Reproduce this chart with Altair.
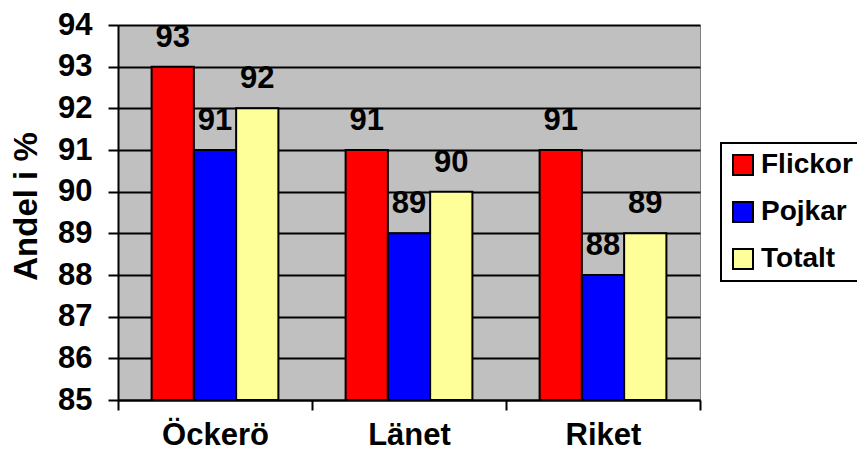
import altair as alt
import pandas as pd

categories = ["Öckerö", "Länet", "Riket"]
series = ["Flickor", "Pojkar", "Totalt"]
flickor = [93, 91, 91]
pojkar = [91, 89, 88]
totalt = [92, 90, 89]
colors = ["#FF0000", "#0000FF", "#FFFF99"]
y_ticks = [85, 86, 87, 88, 89, 90, 91, 92, 93, 94]

rows = []
for s, vals in zip(series, [flickor, pojkar, totalt]):
    for c, v in zip(categories, vals):
        rows.append({"Område": c, "Grupp": s, "Andel": v})
df = pd.DataFrame(rows)

FONT = "Liberation Sans"
FS = 31

x = alt.X(
    "Område:N",
    sort=categories,
    scale=alt.Scale(paddingInner=0, paddingOuter=0),
    axis=alt.Axis(
        title=None,
        labelAngle=0,
        tickBand="extent",
        tickSize=10,
        tickWidth=2,
        tickColor="black",
        domainColor="black",
        domainWidth=2,
        labelPadding=10,
        labelFontSize=FS,
    ),
)
xo = alt.XOffset("Grupp:N", sort=series, scale=alt.Scale(paddingOuter=0.795, paddingInner=0))
y = alt.Y(
    "Andel:Q",
    scale=alt.Scale(domain=[85, 94], zero=False, nice=False),
    axis=alt.Axis(
        title="Andel i %",
        values=y_ticks,
        grid=True,
        gridColor="black",
        gridWidth=2,
        tickSize=10,
        tickWidth=2,
        tickColor="black",
        domainColor="black",
        domainWidth=2,
        labelPadding=16,
        labelFontSize=FS,
        titleFontSize=33,
        titleAngle=-90,
        titleX=-82,
        titleY=181,
        titleAlign="center",
        titleBaseline="alphabetic",
    ),
)

bars = alt.Chart(df).mark_bar(stroke="black", strokeWidth=2).encode(
    x=x,
    xOffset=xo,
    y=y,
    y2=alt.datum(85),
    color=alt.Color(
        "Grupp:N",
        sort=series,
        scale=alt.Scale(domain=series, range=colors),
        legend=alt.Legend(
            title=None,
            orient="none",
            legendX=603,
            legendY=118,
        ),
    ),
)

labels = alt.Chart(df).mark_text(
    font=FONT, fontSize=FS, fontWeight="bold", color="black",
    baseline="alphabetic", dy=-20,
).encode(
    x=alt.X("Område:N", sort=categories),
    xOffset=alt.XOffset("Grupp:N", sort=series),
    y=alt.Y("Andel:Q"),
    text=alt.Text("Andel:Q"),
)

chart = (
    alt.layer(bars, labels)
    .properties(
        width=582,
        height=375,
        autosize=alt.AutoSizeParams(type="none"),
        padding={"left": 110, "top": 17, "right": 157, "bottom": 51},
        background="white",
    )
    .configure_view(fill="#C0C0C0", stroke="#808080", strokeWidth=1)
    .configure_axis(
        labelFont=FONT, labelFontWeight="bold", labelColor="black",
        titleFont=FONT, titleFontWeight="bold", titleColor="black",
    )
    .configure_legend(
        strokeColor="black",
        strokeWidth=2,
        fillColor="white",
        padding=8,
        symbolType="square",
        symbolSize=400,
        symbolStrokeColor="black",
        symbolStrokeWidth=2,
        symbolOpacity=1,
        labelFont=FONT,
        labelFontSize=28,
        labelFontWeight="bold",
        labelColor="black",
        labelOffset=4,
        rowPadding=19,
        labelLimit=300,
    )
)

chart.save("out.html", embed_options={"renderer": "svg", "actions": False})
